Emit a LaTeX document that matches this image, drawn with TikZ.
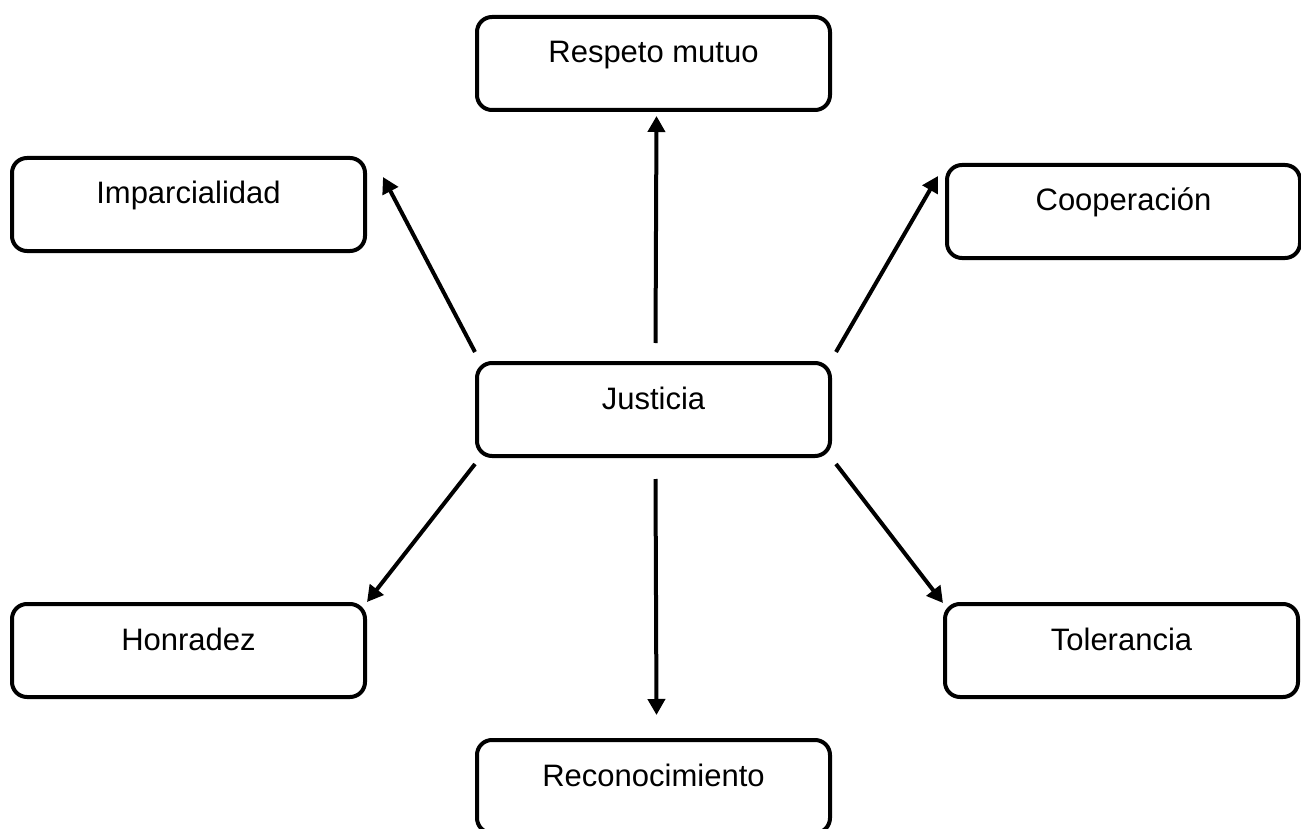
\documentclass[tikz,border=0pt]{standalone}
\usepackage{fontspec}
\setmainfont{Liberation Sans}
\usetikzlibrary{arrows.meta,calc}
\begin{document}
\begin{tikzpicture}[x=1pt,y=-1pt,
  box/.style={draw, line width=4pt, rounded corners=15pt, minimum width=353pt,
    inner sep=0pt, text height=46pt, text depth=47pt, anchor=north west,
    font=\fontsize{31}{37}\selectfont},
  arr/.style={line width=4pt, -{Triangle[length=16pt,width=17pt]}}]
\useasboundingbox (0,0) rectangle (1301,829);
\node[box] (r) at (475,15) {Respeto mutuo};
\node[box] (i) at (10,156) {Imparcialidad};
\node[box] (c) at (945,163) {Cooperación};
\node[box] (j) at (475,361) {Justicia};
\node[box] (h) at (10,602) {Honradez};
\node[box] (t) at (943,602) {Tolerancia};
\node[box] (rc) at (475,738) {Reconocimiento};
\draw[arr] ($(j.north)+(2,-18)$) -- ($(r.south)+(3,4)$);
\draw[arr] ($(j.north west)+(0,-9)$) -- ($(i.north east)+(16,21)$);
\draw[arr] ($(j.north east)+(4,-9)$) -- ($(c.north west)+(-7,13)$);
\draw[arr] ($(j.south west)+(0,6)$) -- ($(h.north east)+(0,0)$);
\draw[arr] ($(j.south)+(2,21)$) -- ($(rc.north)+(3,-23)$);
\draw[arr] ($(j.south east)+(4,6)$) -- ($(t.north west)+(0,1)$);
\end{tikzpicture}
\end{document}
